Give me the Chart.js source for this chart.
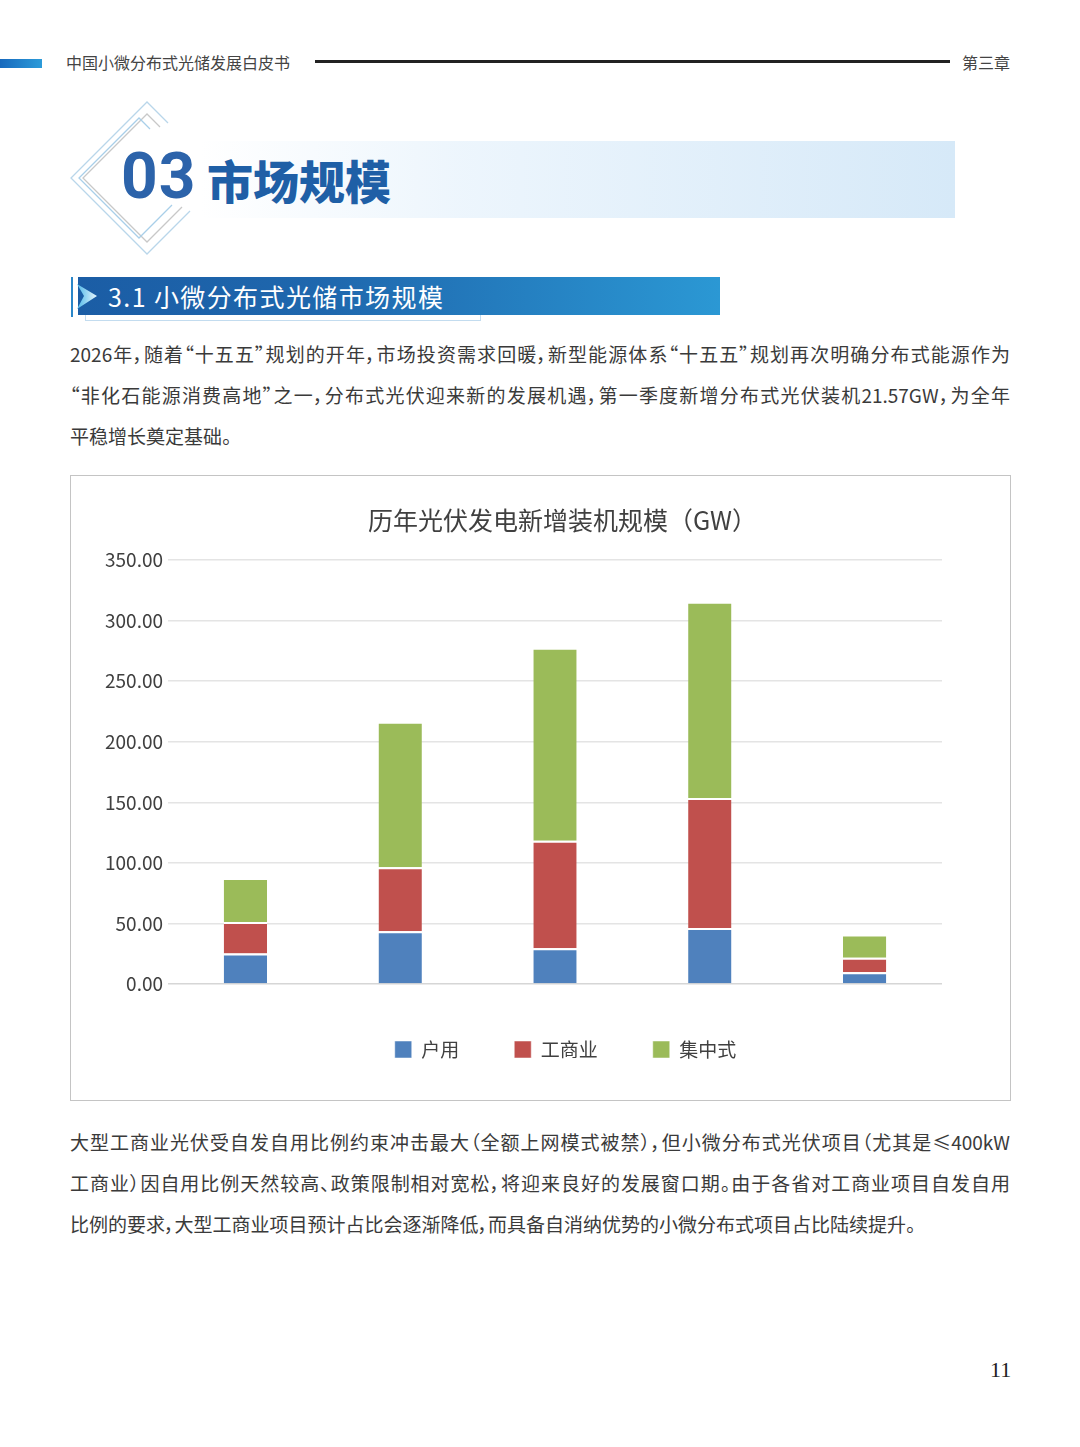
<!DOCTYPE html>
<html lang="zh-CN">
<head>
<meta charset="utf-8">
<script src="https://cdn.jsdelivr.net/npm/chart.js@4.4.1/dist/chart.umd.min.js"></script>
<style>
  html, body { margin:0; padding:0; background:#fff; }
  body { width:1080px; height:1447px; position:relative; overflow:hidden; font-family:"Noto Sans CJK SC","Noto Sans",sans-serif; color:#333; }
  .abs { position:absolute; }
  .hdr { font-size:16px; color:#444; line-height:20px; top:52px; }
  .para div { height:41px; line-height:41px; font-size:19px; text-align:justify; text-align-last:justify; white-space:nowrap; color:#3a3a3a; font-feature-settings:"palt"; }
  .para div.last { text-align-last:left; }
  #chartBox { left:70px; top:475px; width:941px; height:626px; border:1.5px solid #c4c4c4; box-sizing:border-box; }
</style>
</head>
<body>
<!-- header -->
<div class="abs" style="left:0;top:59px;width:42px;height:9px;background:linear-gradient(90deg,#1769bd,#2c9bd9);"></div>
<div class="abs hdr" style="left:66px;">中国小微分布式光储发展白皮书</div>
<div class="abs" style="left:315px;top:60px;width:635px;height:2.5px;background:#222;"></div>
<div class="abs hdr" style="left:962px;">第三章</div>

<!-- chapter title -->
<div class="abs" style="left:200px;top:141px;width:755px;height:77px;background:linear-gradient(90deg,rgba(255,255,255,0) 0%,rgba(232,243,252,0.8) 35%,#d6e9f8 100%);"></div>
<svg class="abs" style="left:0;top:0;" width="300" height="300">
  <g fill="none" stroke-width="1.3">
    <polyline points="168,123 147,102 71,178 147,254 190,211" stroke="#b9d6ea"/>
    <polyline points="160,127 147,114 83,178 147,242 182,207" stroke="#c8c8c8"/>
    <polyline points="150,129 139,118 79,178 139,238 172,205" stroke="#a9cfe9"/>
  </g>
</svg>
<div class="abs" style="left:121px;top:145px;font-family:Roboto,'Noto Sans',sans-serif;font-weight:700;font-size:64px;line-height:64px;color:#2c63aa;letter-spacing:1px;">03</div>
<div class="abs" style="left:207px;top:154px;font-weight:900;font-size:46px;line-height:50px;color:#1f5fa6;">市场规模</div>

<!-- section bar -->
<div class="abs" style="left:71px;top:277px;width:2px;height:40px;background:#2a86c8;"></div>
<div class="abs" style="left:78px;top:277px;width:642px;height:38px;background:linear-gradient(90deg,#1b5da5 0%,#1f68ae 40%,#2b98d4 100%);"></div>
<div class="abs" style="left:85px;top:315px;width:396px;height:6px;border:1px solid #c3dcef;border-top:none;box-sizing:border-box;"></div>
<svg class="abs" style="left:0;top:0;" width="120" height="330">
  <defs><linearGradient id="cg" x1="0" x2="1" y1="0" y2="0"><stop offset="0" stop-color="#4fb8e8"/><stop offset="1" stop-color="#e8f6fd"/></linearGradient></defs>
  <polygon points="77,284 97,296 77,309 84,296" fill="url(#cg)"/>
</svg>
<div class="abs" style="left:108px;top:280px;font-size:25px;line-height:32px;color:#fff;letter-spacing:1.4px;">3.1 小微分布式光储市场规模</div>

<!-- paragraph 1 -->
<div class="abs para" style="left:70px;top:333px;width:940px;">
  <div>2026年，随着“十五五”规划的开年，市场投资需求回暖，新型能源体系“十五五”规划再次明确分布式能源作为</div>
  <div>“非化石能源消费高地”之一，分布式光伏迎来新的发展机遇，第一季度新增分布式光伏装机21.57GW，为全年</div>
  <div class="last">平稳增长奠定基础。</div>
</div>

<!-- chart -->
<div class="abs" id="chartBox">
  <canvas id="c" width="938" height="623"></canvas>
</div>

<!-- paragraph 2 -->
<div class="abs para" style="left:70px;top:1121px;width:940px;">
  <div>大型工商业光伏受自发自用比例约束冲击最大（全额上网模式被禁），但小微分布式光伏项目（尤其是≤400kW</div>
  <div>工商业）因自用比例天然较高、政策限制相对宽松，将迎来良好的发展窗口期。由于各省对工商业项目自发自用</div>
  <div class="last">比例的要求，大型工商业项目预计占比会逐渐降低，而具备自消纳优势的小微分布式项目占比陆续提升。</div>
</div>

<div class="abs" style="left:990px;top:1357px;font-family:'Liberation Serif','DejaVu Serif',serif;font-size:22px;line-height:26px;color:#222;">11</div>

<script>
const categories = ['2022', '2023', '2024', '2025', '2026Q1'];
const seriesNames = ['户用', '工商业', '集中式'];
const household = [25.25, 43.48, 29.6, 46.3, 9.6];
const commercial = [25.86, 52.92, 88.58, 107.2, 11.97];
const utility = [36.3, 120.01, 159.39, 162.0, 19.3];
const yTicks = [0, 50, 100, 150, 200, 250, 300, 350];
const chartTitle = '历年光伏发电新增装机规模（GW）';

const colors = ['#4f81bd', '#c0504d', '#9bbb59'];
const font = "'Noto Sans CJK SC','Noto Sans',sans-serif";

function ds(label, data, color) {
  return {
    label, data, backgroundColor: color,
    borderColor: '#ffffff',
    borderWidth: { top: 2, left: 0, right: 0, bottom: 0 },
    borderSkipped: false,
    barPercentage: 0.28, categoryPercentage: 1.0
  };
}

// shift title and legend boxes to the right like the original layout
const shiftBoxes = {
  id: 'shiftBoxes',
  afterLayout(chart) {
    if (chart.titleBlock) { chart.titleBlock.left += 56; chart.titleBlock.right += 56; }
    if (chart.legend) { chart.legend.left += 59; chart.legend.right += 59; }
  }
};

new Chart(document.getElementById('c'), {
  type: 'bar',
  data: {
    labels: categories,
    datasets: [
      ds(seriesNames[0], household, colors[0]),
      ds(seriesNames[1], commercial, colors[1]),
      ds(seriesNames[2], utility, colors[2])
    ]
  },
  plugins: [shiftBoxes],
  options: {
    responsive: false,
    animation: false,
    devicePixelRatio: 1,
    layout: { padding: { left: 0, right: 67, top: 0, bottom: 30 } },
    plugins: {
      title: {
        display: true, text: chartTitle, color: '#404040',
        font: { family: font, size: 25, weight: 'normal' },
        padding: { top: 29, bottom: 25 }
      },
      legend: {
        position: 'bottom',
        labels: {
          color: '#404040', font: { family: font, size: 19 },
          boxWidth: 17, boxHeight: 17, padding: 55
        }
      },
      tooltip: { enabled: false }
    },
    scales: {
      x: {
        stacked: true,
        grid: { display: false, drawTicks: false },
        border: { display: false },
        ticks: { color: '#404040', font: { family: font, size: 19 }, padding: 9 },
        afterFit: (s) => { s.height = 1; }
      },
      y: {
        stacked: true, min: 0, max: 350,
        grid: { color: (ctx) => ctx.tick && ctx.tick.value === 0 ? '#d6d6d6' : '#e4e4e4', lineWidth: 1.5, drawTicks: false },
        border: { display: false },
        afterBuildTicks: (s) => { s.ticks = yTicks.map(v => ({ value: v })); },
        ticks: {
          color: '#404040', font: { family: font, size: 19 }, padding: 5,
          callback: (v) => Number(v).toFixed(2)
        },
        afterFit: (s) => { s.width = 97; }
      }
    }
  }
});
</script>
</body>
</html>
